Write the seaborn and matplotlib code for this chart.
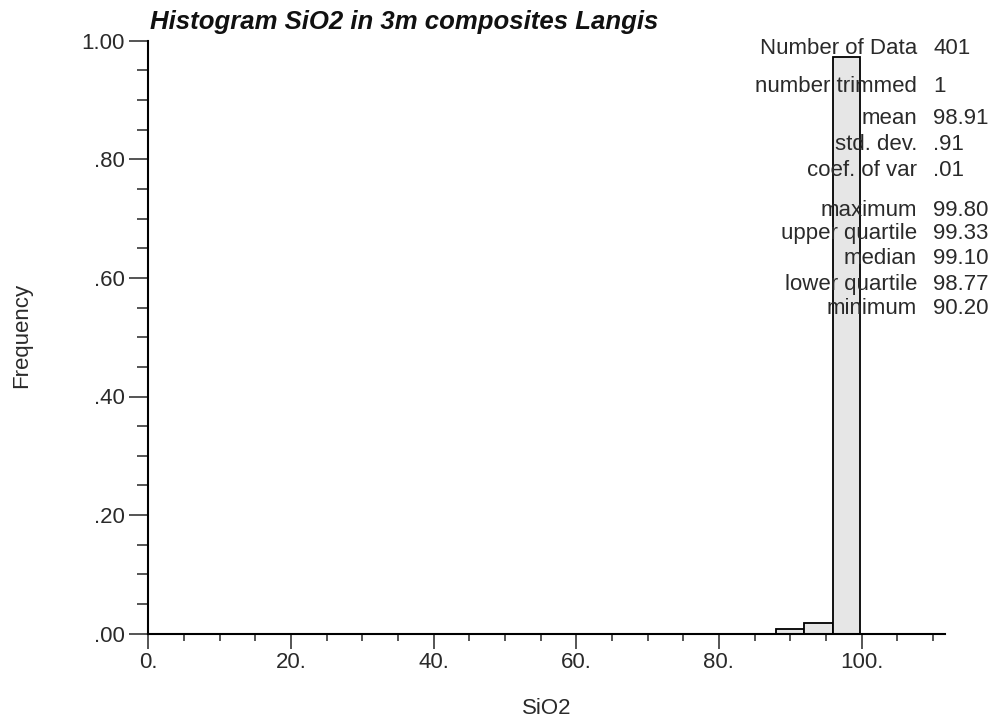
import numpy as np
import pandas as pd
import matplotlib
matplotlib.use("Agg")
import matplotlib.pyplot as plt
import seaborn as sbn

# histogram classes (SiO2 %) and frequencies
bin_edges = [88.0, 92.0, 96.0, 99.8]
freqs     = [0.0075, 0.0175, 0.9725]

x_ticks  = [0, 20, 40, 60, 80, 100]
x_labels = ['0.', '20.', '40.', '60.', '80.', '100.']
y_ticks  = [0.0, 0.2, 0.4, 0.6, 0.8, 1.0]
y_labels = ['.00', '.20', '.40', '.60', '.80', '1.00']

stat_names  = ['Number of Data', 'number trimmed', 'mean', 'std. dev.', 'coef. of var',
               'maximum', 'upper quartile', 'median', 'lower quartile', 'minimum']
stat_values = ['401', '1', '98.91', '.91', '.01',
               '99.80', '99.33', '99.10', '98.77', '90.20']

title = 'Histogram SiO2 in 3m composites Langis'

sbn.set_style("ticks")
plt.rcParams['font.family'] = ['Liberation Sans', 'DejaVu Sans']

centers = [(bin_edges[i] + bin_edges[i + 1]) / 2 for i in range(len(freqs))]
df = pd.DataFrame({'SiO2': centers, 'freq': freqs})

W, H = 998, 725
fig = plt.figure(figsize=(W / 100, H / 100), dpi=100)
ax = fig.add_axes([148.3 / W, 1 - 633.7 / H, (945 - 148.3) / W, (633.7 - 40.7) / H])

sbn.histplot(data=df, x='SiO2', weights='freq', bins=bin_edges, ax=ax,
             color='#e6e6e6', edgecolor='black', linewidth=1.3, alpha=1)

ax.set_xlim(0, 111.7)
ax.set_ylim(0, 1.0)
for s in ['top', 'right']:
    ax.spines[s].set_visible(False)
for s in ['left', 'bottom']:
    ax.spines[s].set_linewidth(1.5)
    ax.spines[s].set_color('black')

txt_col = '#2a2a2a'
fs = 16
ax.set_xticks(x_ticks)
ax.set_xticklabels(x_labels, fontsize=fs, color=txt_col)
ax.set_xticks(np.arange(0, 111, 5), minor=True)
ax.set_yticks(y_ticks)
ax.set_yticklabels(y_labels, fontsize=fs, color=txt_col)
ax.set_yticks(np.arange(0, 1.001, 0.05), minor=True)
ax.tick_params(axis='x', which='major', length=11, width=1.1, pad=2, direction='out')
ax.tick_params(axis='x', which='minor', length=5, width=1.1, direction='out')
ax.tick_params(axis='y', which='major', length=14, width=1.1, pad=3, direction='out')
ax.tick_params(axis='y', which='minor', length=8, width=1.1, direction='out')

ax.set_xlabel('SiO2', fontsize=fs, color=txt_col)
ax.set_ylabel('Frequency', fontsize=fs, color=txt_col)
ax.xaxis.label.set_va('center')
ax.yaxis.label.set_va('center')
# label centres: SiO2 at (546, 708) px, Frequency at (22, 335) px
ax.xaxis.set_label_coords(0.5, (H - 708 - (H - 633.7)) / (633.7 - 40.7))
ax.yaxis.set_label_coords((22 - 148.3) / (945 - 148.3), (633.7 - 335) / (633.7 - 40.7))

fig.text(150 / W, 1 - 29 / H, title, fontsize=18.5, fontweight='bold',
         fontstyle='italic', color='#111111', ha='left', va='baseline')

row_y = [49, 86, 119, 145, 171, 210, 234, 259, 284, 309]
for name, val, yy in zip(stat_names, stat_values, row_y):
    fig.text(917 / W, 1 - yy / H, name, fontsize=fs, color=txt_col,
             ha='right', va='center')
    fig.text(933 / W, 1 - yy / H, val, fontsize=fs, color=txt_col,
             ha='left', va='center')

plt.savefig('out.png', dpi=100)
